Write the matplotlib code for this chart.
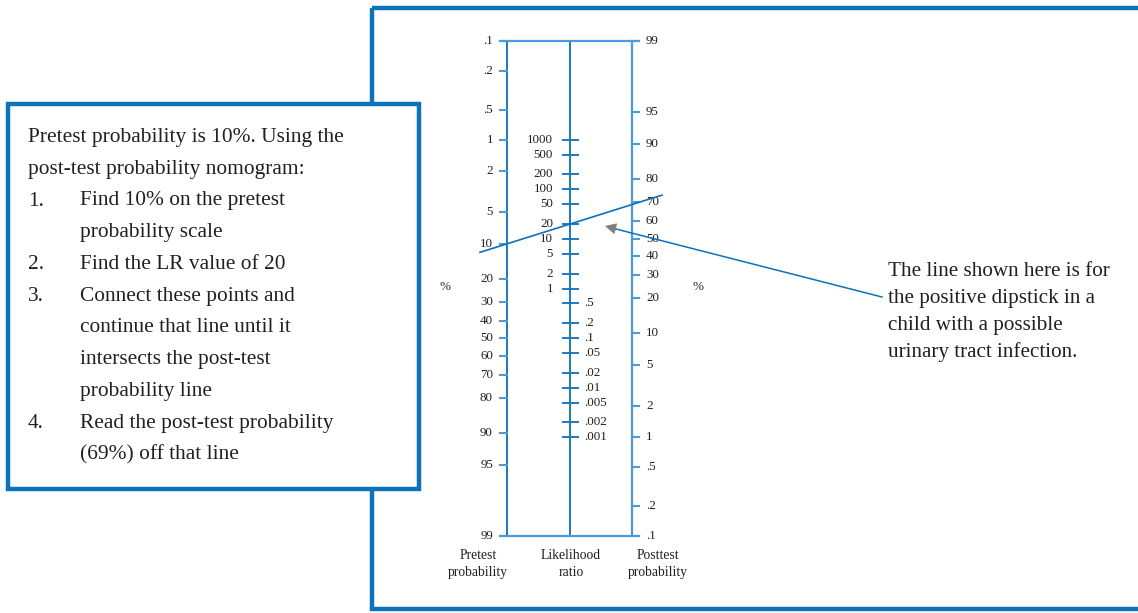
import numpy as np
import matplotlib
matplotlib.use("Agg")
import matplotlib.pyplot as plt
from matplotlib.patches import Rectangle

plt.rcParams['font.family'] = ['Liberation Serif', 'DejaVu Serif']

# ---------------- data ----------------
pretest_ticks = [0.1, 0.2, 0.5, 1, 2, 5, 10, 20, 30, 40, 50, 60, 70, 80, 90, 95, 99]
pretest_labels = ['.1', '.2', '.5', '1', '2', '5', '10', '20', '30', '40', '50',
                  '60', '70', '80', '90', '95', '99']
lr_ticks_hi = [1000, 500, 200, 100, 50, 20, 10, 5, 2, 1]
lr_labels_hi = ['1000', '500', '200', '100', '50', '20', '10', '5', '2', '1']
lr_ticks_lo = [0.5, 0.2, 0.1, 0.05, 0.02, 0.01, 0.005, 0.002, 0.001]
lr_labels_lo = ['.5', '.2', '.1', '.05', '.02', '.01', '.005', '.002', '.001']
post_ticks = [99, 95, 90, 80, 70, 60, 50, 40, 30, 20, 10, 5, 2, 1, 0.5, 0.2, 0.1]
post_labels = ['99', '95', '90', '80', '70', '60', '50', '40', '30', '20', '10',
               '5', '2', '1', '.5', '.2', '.1']
pretest_value = 10   # %
lr_value = 20

box_lines = [
    ("", "Pretest probability is 10%. Using the"),
    ("", "post-test probability nomogram:"),
    ("1.", "Find 10% on the pretest"),
    ("", "probability scale"),
    ("2.", "Find the LR value of 20"),
    ("3.", "Connect these points and"),
    ("", "continue that line until it"),
    ("", "intersects the post-test"),
    ("", "probability line"),
    ("4.", "Read the post-test probability"),
    ("", "(69%) off that line"),
]
note_lines = ["The line shown here is for", "the positive dipstick in a",
              "child with a possible", "urinary tract infection."]

# ---------------- layout ----------------
W, H = 1138, 613
fig = plt.figure(figsize=(W / 100, H / 100), dpi=100)
ax = fig.add_axes([0, 0, 1, 1])
ax.set_xlim(0, W)
ax.set_ylim(H, 0)
ax.axis('off')

BLUE = '#0b72bb'
AX_C = '#1f78c1'
AX_C2 = '#4d9ad6'
TXT = '#231f20'

# big frame
ax.add_patch(Rectangle((372, 8), 900, 601, fill=False, edgecolor=BLUE, lw=3.2, zorder=1))

# nomogram geometry
X_PRE, X_LR, X_POST = 507.5, 570, 632
Y_TOP, Y_BOT = 41, 536


def logit(p):
    p = np.asarray(p, dtype=float) / 100.0
    return np.log(p / (1 - p))


L_MIN, L_MAX = float(logit(0.1)), float(logit(99))
K = (Y_BOT - Y_TOP) / (L_MAX - L_MIN)


def y_pre(p):
    return Y_TOP + (logit(p) - L_MIN) * K


def y_post(p):
    return Y_TOP + (L_MAX - logit(p)) * K


def y_lr(lr):
    return Y_TOP + (L_MAX - L_MIN - np.log(np.asarray(lr, dtype=float))) * K / 2


# axes lines
ax.plot([X_PRE, X_PRE], [Y_TOP, Y_BOT], color=AX_C, lw=1.4, zorder=3)
ax.plot([X_LR, X_LR], [Y_TOP, Y_BOT], color=AX_C, lw=1.4, zorder=3)
ax.plot([X_POST, X_POST], [Y_TOP, Y_BOT], color=AX_C2, lw=1.6, zorder=3)
ax.plot([500, 639.5], [Y_TOP, Y_TOP], color=AX_C2, lw=1.6, zorder=3)
ax.plot([500, 639.5], [Y_BOT, Y_BOT], color=AX_C2, lw=1.6, zorder=3)

FS = 9.4
for v, lab in zip(pretest_ticks, pretest_labels):
    y = y_pre(v)
    ax.plot([500, X_PRE], [y, y], color=AX_C2, lw=1.5, zorder=3)
    ax.text(493, y, lab, ha='right', va='center', fontsize=FS, color=TXT)

for v, lab in zip(post_ticks, post_labels):
    y = y_post(v)
    ax.plot([X_POST, 639.5], [y, y], color=AX_C2, lw=1.5, zorder=3)
    ax.text(646, y, lab, ha='left', va='center', fontsize=FS, color=TXT)

for v, lab in zip(lr_ticks_hi, lr_labels_hi):
    y = y_lr(v)
    ax.plot([563, 578], [y, y], color=AX_C, lw=1.4, zorder=3)
    ax.text(553, y, lab, ha='right', va='center', fontsize=FS, color=TXT)

for v, lab in zip(lr_ticks_lo, lr_labels_lo):
    y = y_lr(v)
    ax.plot([563, 578], [y, y], color=AX_C, lw=1.4, zorder=3)
    ax.text(584, y, lab, ha='left', va='center', fontsize=FS, color=TXT)

ax.text(445, 287, '%', ha='center', va='center', fontsize=FS, color=TXT)
ax.text(698, 287, '%', ha='center', va='center', fontsize=FS, color=TXT)

FB = 9.8
ax.text(478, 564, 'Pretest\nprobability', ha='center', va='center', fontsize=FB,
        color=TXT, linespacing=1.45)
ax.text(571, 564, 'Likelihood\nratio', ha='center', va='center', fontsize=FB,
        color=TXT, linespacing=1.45)
ax.text(658, 564, 'Posttest\nprobability', ha='center', va='center', fontsize=FB,
        color=TXT, linespacing=1.45)

# connecting line through pretest value and LR value
y1 = float(y_pre(pretest_value))
y2 = float(y_lr(lr_value))
slope = (y2 - y1) / (X_LR - X_PRE)
xs = np.array([480, 662])
ax.plot(xs, y1 + slope * (xs - X_PRE), color=BLUE, lw=1.2, zorder=4)

# annotation pointer
ax.plot([882, 614], [297, 228.5], color=BLUE, lw=1.1, zorder=4)
ax.annotate('', xy=(605, 226), xytext=(618, 229.3),
            arrowprops=dict(arrowstyle='-|>', color='#7f7f7f', lw=0.5,
                            mutation_scale=18, shrinkA=0, shrinkB=0), zorder=5)

for i, s in enumerate(note_lines):
    ax.text(888, 272 + i * 26.7, s, ha='left', va='center', fontsize=15.2, color=TXT)

# left instruction box
ax.add_patch(Rectangle((8.5, 104), 411, 385, facecolor='white', edgecolor=BLUE,
                       lw=3.2, zorder=6))
BF = 15.4
for i, (num, s) in enumerate(box_lines):
    y = 137.5 + i * 31.75
    if num:
        ax.text(28, y, num, ha='left', va='center', fontsize=BF, color=TXT, zorder=7)
        ax.text(80, y, s, ha='left', va='center', fontsize=BF, color=TXT, zorder=7)
    else:
        x = 80 if i in (3, 6, 7, 8, 10) else 28
        ax.text(x, y, s, ha='left', va='center', fontsize=BF, color=TXT, zorder=7)

fig.savefig('out.png', dpi=100)
